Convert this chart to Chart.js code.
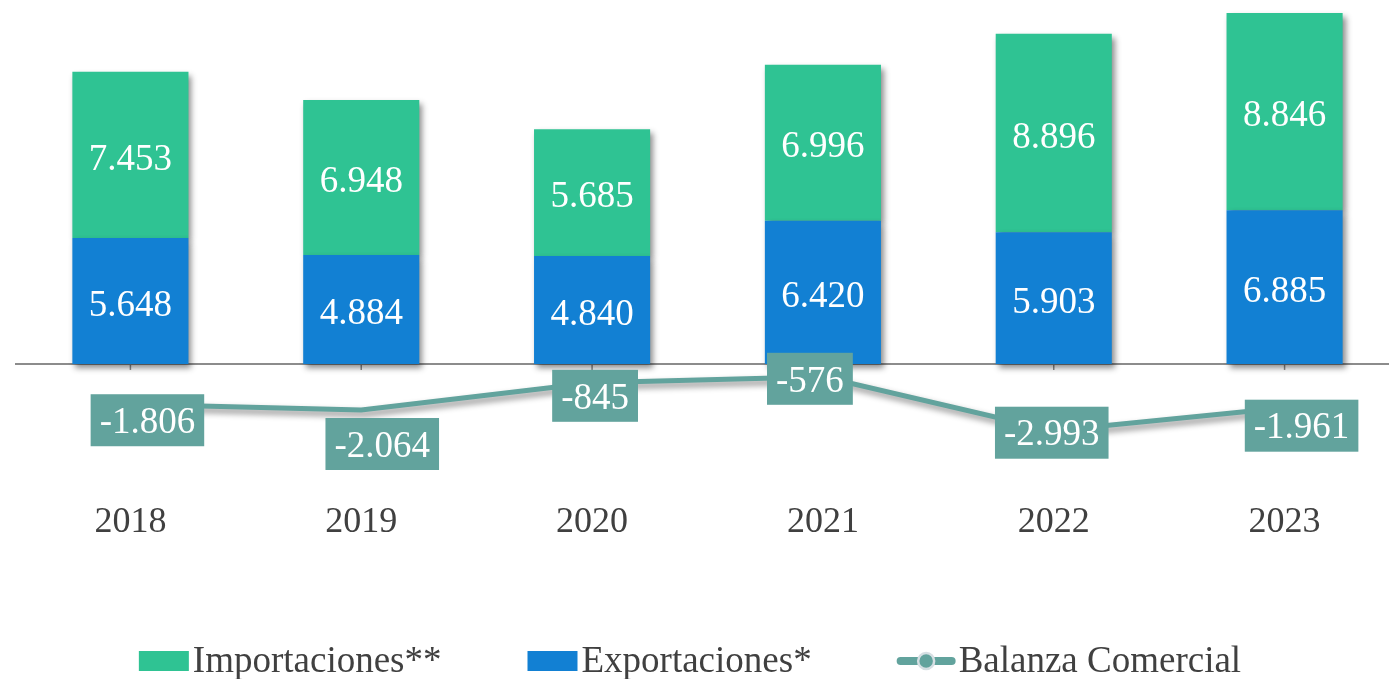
<!DOCTYPE html>
<html>
<head>
<meta charset="utf-8">
<script src="https://cdn.jsdelivr.net/npm/chart.js@4/dist/chart.umd.min.js"></script>
<style>
  html, body { margin: 0; padding: 0; background: #fff; overflow: hidden; }
  #wrap { width: 1400px; height: 679px; }
</style>
</head>
<body>
<div id="wrap"><canvas id="balanza_chart"></canvas></div>
<script>
const years = ["2018", "2019", "2020", "2021", "2022", "2023"];
const exportaciones = [5648, 4884, 4840, 6420, 5903, 6885];
const importaciones = [7453, 6948, 5685, 6996, 8896, 8846];
const balanza = [-1806, -2064, -845, -576, -2993, -1961];

const SERIF = '"Liberation Serif", "Times New Roman", serif';
const GREEN = "#2fc393";
const BLUE = "#1280d3";
const TEAL = "#62a39d";
const GRAY_TEXT = "#404040";

// where the teal value boxes sit relative to their point (hand placed, like the original)
const boxNudge = [[17, 16], [21, 34], [3, 13], [-13, 2], [-2, 2], [17, 18]];

function fmt(v) {
  let s = String(Math.abs(v)).replace(/\B(?=(\d{3})+(?!\d))/g, ".");
  return (v < 0 ? "-" : "") + s;
}

const shadowPlugin = {
  id: "shadows",
  beforeDatasetDraw(chart, args) {
    const ctx = chart.ctx;
    ctx.save();
    ctx.shadowColor = "rgba(0,0,0,0.45)";
    ctx.shadowBlur = 6;
    ctx.shadowOffsetX = 3;
    ctx.shadowOffsetY = 4;
  },
  afterDatasetDraw(chart) {
    chart.ctx.restore();
  },
};

const zeroLinePlugin = {
  id: "zeroline",
  beforeDatasetsDraw(chart) {
    const ctx = chart.ctx;
    const y0 = chart.scales.y.getPixelForValue(0);
    const area = chart.chartArea;
    ctx.save();
    ctx.strokeStyle = "#8c8c8c";
    ctx.lineWidth = 2;
    ctx.beginPath();
    ctx.moveTo(area.left, y0);
    ctx.lineTo(area.right, y0);
    ctx.stroke();
    ctx.lineWidth = 1.5;
    years.forEach((yr, i) => {
      const x = chart.scales.x.getPixelForValue(i);
      ctx.beginPath();
      ctx.moveTo(x, y0);
      ctx.lineTo(x, y0 + 6);
      ctx.stroke();
    });
    ctx.restore();
  },
};

const labelPlugin = {
  id: "valuelabels",
  afterDatasetsDraw(chart) {
    const ctx = chart.ctx;
    ctx.save();
    ctx.textAlign = "center";
    ctx.textBaseline = "middle";
    chart.data.datasets.forEach((ds, di) => {
      const meta = chart.getDatasetMeta(di);
      if (ds.type === "bar") {
        ctx.font = "37px " + SERIF;
        ctx.fillStyle = "#ffffff";
        meta.data.forEach((el, i) => {
          ctx.fillText(fmt(ds.data[i]), el.x, (el.y + el.base) / 2 + 5);
        });
      } else {
        ctx.font = "37px " + SERIF;
        meta.data.forEach((el, i) => {
          const txt = fmt(ds.data[i]);
          const w = ctx.measureText(txt).width + 18;
          const h = 52;
          const cx = el.x + boxNudge[i][0];
          const cy = el.y + boxNudge[i][1];
          ctx.fillStyle = TEAL;
          ctx.fillRect(cx - w / 2, cy - h / 2, w, h);
          ctx.fillStyle = "#ffffff";
          ctx.fillText(txt, cx, cy + 3);
        });
      }
    });
    ctx.restore();
  },
};

const legendPlugin = {
  id: "bottomlegend",
  afterDraw(chart) {
    const ctx = chart.ctx;
    const items = [
      { text: "Importaciones**", kind: "box", color: GREEN, w: 50 },
      { text: "Exportaciones*", kind: "box", color: BLUE, w: 50 },
      { text: "Balanza Comercial", kind: "line", color: TEAL, w: 57 },
    ];
    ctx.save();
    ctx.font = "37px " + SERIF;
    ctx.textBaseline = "middle";
    ctx.textAlign = "left";
    const gap = 4, spacing = 86;
    let total = 0;
    items.forEach((it, i) => {
      it.tw = ctx.measureText(it.text).width;
      total += it.w + gap + it.tw + (i > 0 ? spacing : 0);
    });
    let x = 690 - total / 2;
    const cy = 661;
    items.forEach((it) => {
      if (it.kind === "box") {
        ctx.fillStyle = it.color;
        ctx.fillRect(x, cy - 10, it.w, 20);
      } else {
        ctx.strokeStyle = it.color;
        ctx.lineWidth = 8;
        ctx.lineCap = "round";
        ctx.beginPath();
        ctx.moveTo(x + 3, cy);
        ctx.lineTo(x + it.w - 3, cy);
        ctx.stroke();
        ctx.beginPath();
        ctx.arc(x + it.w / 2, cy, 8, 0, Math.PI * 2);
        ctx.fillStyle = it.color;
        ctx.fill();
        ctx.lineWidth = 2.5;
        ctx.strokeStyle = "#d6dfe3";
        ctx.stroke();
      }
      ctx.fillStyle = GRAY_TEXT;
      ctx.fillText(it.text, x + it.w + gap, cy + 1);
      x += it.w + gap + it.tw + spacing;
    });
    ctx.restore();
  },
};

new Chart(document.getElementById("balanza_chart"), {
  data: {
    labels: years,
    datasets: [
      {
        type: "line",
        label: "Balanza Comercial",
        data: balanza,
        borderColor: TEAL,
        backgroundColor: TEAL,
        borderWidth: 5,
        pointRadius: 0,
        tension: 0,
        order: 0,
      },
      {
        type: "bar",
        label: "Exportaciones*",
        data: exportaciones,
        backgroundColor: BLUE,
        stack: "trade",
        barPercentage: 0.503,
        categoryPercentage: 1,
        order: 1,
      },
      {
        type: "bar",
        label: "Importaciones**",
        data: importaciones,
        backgroundColor: GREEN,
        stack: "trade",
        barPercentage: 0.503,
        categoryPercentage: 1,
        order: 2,
      },
    ],
  },
  options: {
    responsive: true,
    maintainAspectRatio: false,
    animation: false,
    layout: { padding: { top: 7, left: 15, right: 0, bottom: 132 } },
    plugins: {
      legend: { display: false },
      tooltip: { enabled: false },
    },
    scales: {
      x: {
        stacked: true,
        grid: { display: false, drawTicks: false },
        border: { display: false },
        ticks: { color: GRAY_TEXT, font: { family: SERIF, size: 36 }, padding: 3 },
      },
      y: {
        stacked: true,
        display: false,
        min: -6000,
        max: 16000,
      },
    },
  },
  plugins: [shadowPlugin, zeroLinePlugin, labelPlugin, legendPlugin],
});
</script>
</body>
</html>
